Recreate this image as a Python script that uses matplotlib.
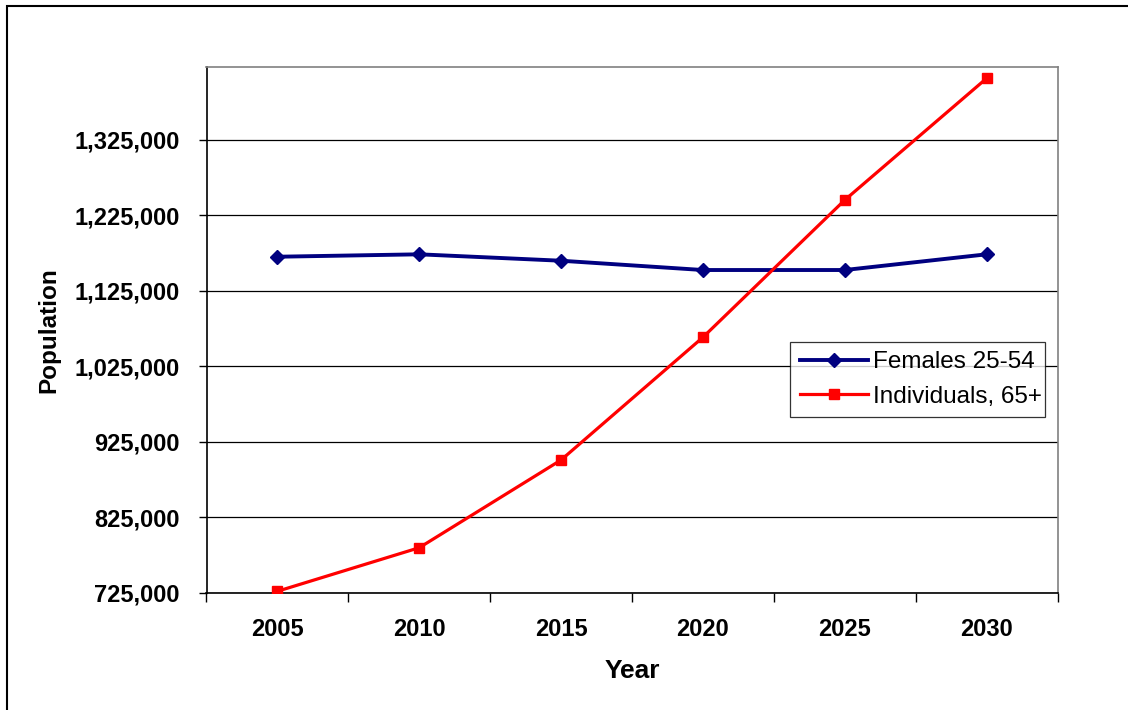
import matplotlib
matplotlib.use("Agg")
import matplotlib.pyplot as plt
from matplotlib.patches import Rectangle
from matplotlib.ticker import FuncFormatter, FixedLocator

years = ["2005", "2010", "2015", "2020", "2025", "2030"]
females_25_54 = [1170000, 1173200, 1164700, 1152400, 1152400, 1173200]
individuals_65 = [726900, 784600, 900800, 1063300, 1245100, 1406300]
y_ticks = [725000, 825000, 925000, 1025000, 1125000, 1225000, 1325000]

plt.rcParams['font.family'] = ['Liberation Sans', 'DejaVu Sans']

fig = plt.figure(figsize=(11.28, 7.10), dpi=100)
fig.patches.append(Rectangle((7/1128, -0.05), 1.2, 1 - 6/710 + 0.05,
                             transform=fig.transFigure, fill=False,
                             edgecolor='black', linewidth=1.5))

ax = fig.add_axes([206.5/1128, 1 - 592.7/710, (1057.5 - 206.5)/1128, (592.7 - 66.7)/710])
x = list(range(len(years)))
ax.plot(x, females_25_54, color='#000080', linewidth=2.8, marker='D',
        markersize=7.5, label='Females 25-54', zorder=3)
ax.plot(x, individuals_65, color='#FF0000', linewidth=2.3, marker='s',
        markersize=7.5, label='Individuals, 65+', zorder=4)

ax.set_xlim(-0.5, len(years) - 0.5)
ax.set_ylim(725000, 1421700)
ax.yaxis.set_major_locator(FixedLocator(y_ticks))
ax.yaxis.set_major_formatter(FuncFormatter(lambda v, p: f"{int(v):,}"))
ax.set_xticks([i - 0.5 for i in range(len(years) + 1)])
ax.set_xticklabels([])
ax.set_xticks(x, minor=True)
ax.set_xticklabels(years, minor=True)
ax.tick_params(axis='x', which='major', direction='out', length=6.5, width=1, color='black')
ax.tick_params(axis='x', which='minor', length=0, pad=18, labelsize=17)
ax.tick_params(axis='y', direction='out', length=5.5, width=1, pad=14, labelsize=17)
for lab in ax.get_xticklabels(minor=True) + ax.get_yticklabels():
    lab.set_fontweight('bold')

ax.grid(axis='y', color='black', linewidth=0.9)
ax.set_axisbelow(True)
ax.spines['left'].set_color('black')
ax.spines['bottom'].set_color('black')
ax.spines['top'].set_color('#808080')
ax.spines['right'].set_color('#808080')
for s in ax.spines.values():
    s.set_linewidth(1.2)

ax.set_xlabel('Year', fontsize=19, fontweight='bold', labelpad=13)
ax.set_ylabel('Population', fontsize=17.5, fontweight='bold', labelpad=10)

leg = ax.legend(loc='center', bbox_to_anchor=(0.686, 0.332, 0.299, 0.1465),
                mode='expand', borderaxespad=0, fontsize=17.5, frameon=True,
                fancybox=False, edgecolor='black', handlelength=2.8,
                borderpad=0.4, labelspacing=0.5, handletextpad=0.2)
leg.get_frame().set_linewidth(0.9)

fig.savefig('out.png', dpi=100)
